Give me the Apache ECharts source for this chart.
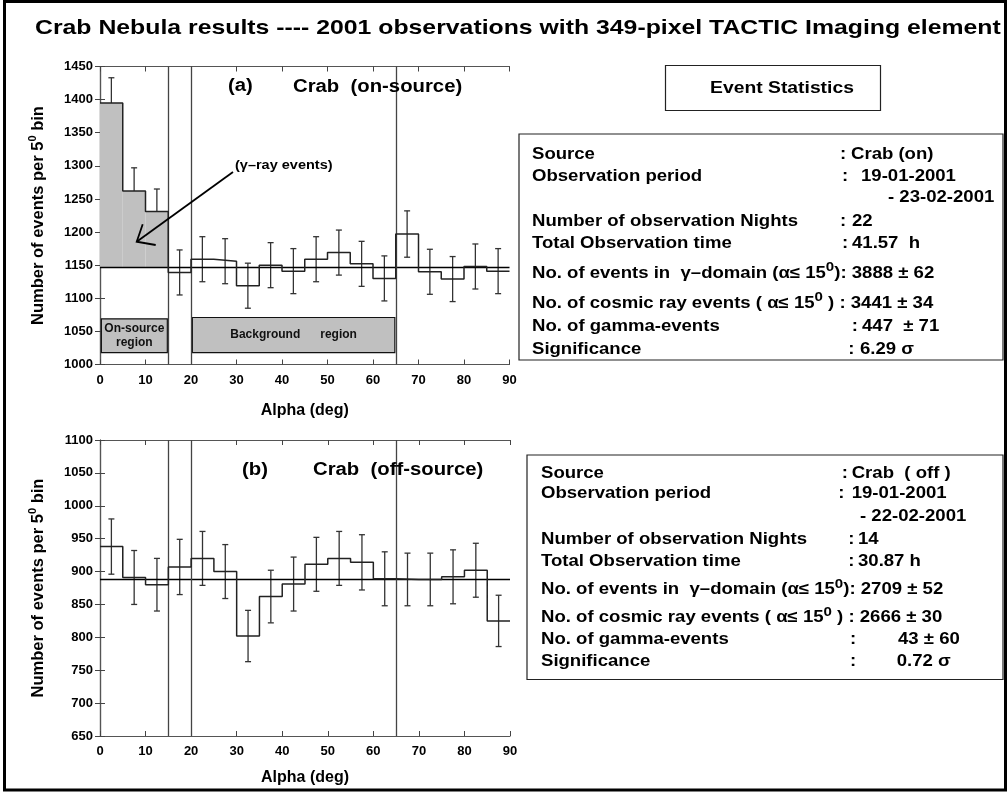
<!DOCTYPE html>
<html>
<head>
<meta charset="utf-8">
<script src="https://cdn.jsdelivr.net/npm/echarts@6/dist/echarts.min.js"></script>
<style>
  html, body { margin: 0; padding: 0; background: #fff; }
  #chart { width: 1008px; height: 792px; }
</style>
</head>
<body>
<div id="chart"></div>
<script>
// ---- data -------------------------------------------------------------
// Alpha bins (deg), 5 deg wide
const binStarts = [0, 5, 10, 15, 20, 25, 30, 35, 40, 45, 50, 55, 60, 65, 70, 75, 80, 85];
const binWidth = 5;
const xTicks = [0, 10, 20, 30, 40, 50, 60, 70, 80, 90];

// (a) on-source counts per bin and their errors
const onCounts = [1395, 1262, 1231, 1139, 1159, 1156, 1119, 1150, 1141, 1159, 1169, 1152, 1130, 1197, 1140, 1129, 1148, 1141];
const onErrors = [38, 35, 34, 34, 34, 34, 34, 34, 34, 34, 34, 34, 34, 35, 34, 34, 34, 34];
const onBackgroundLevel = 1147;   // 3441 / 3 bins
const onYTicks = [1000, 1050, 1100, 1150, 1200, 1250, 1300, 1350, 1400, 1450];

// (b) off-source counts per bin and their errors
const offCounts = [938, 891, 880, 907, 920, 900, 802, 862, 881, 911, 920, 914, 889, 888, 888, 892, 902, 825];
const offErrors = [42, 41, 40, 42, 41, 41, 39, 40, 41, 41, 41, 42, 41, 40, 40, 41, 41, 39];
const offBackgroundLevel = 889;   // 2666 / 3 bins
const offYTicks = [650, 700, 750, 800, 850, 900, 950, 1000, 1050, 1100];

// alpha cuts: gamma domain ends at 15, background region 20..65
const alphaCuts = [15, 20, 65];
const gammaDomainEnd = 15;
const regions = [
  { name: 'On-source\nregion', from: 0, to: 15 },
  { name: 'Background      region', from: 20, to: 65 }
];

// event statistics
const statsOn = [
  ['Source', 'Crab (on)'],
  ['Observation period', '19-01-2001'],
  ['', '- 23-02-2001'],
  ['Number of observation Nights', '22'],
  ['Total Observation time', '41.57  h'],
  ['No. of events in  γ–domain (α≤ 15{s|0}): 3888 ± 62', ''],
  ['No. of cosmic ray events ( α≤ 15{s|0} ) : 3441 ± 34', ''],
  ['No. of gamma-events', '447  ± 71'],
  ['Significance', '6.29 σ']
];
const statsOff = [
  ['Source', 'Crab  ( off )'],
  ['Observation period', '19-01-2001'],
  ['', '- 22-02-2001'],
  ['Number of observation Nights', '14'],
  ['Total Observation time', '30.87 h'],
  ['No. of events in  γ–domain (α≤ 15{s|0}): 2709 ± 52', ''],
  ['No. of cosmic ray events ( α≤ 15{s|0} ) : 2666 ± 30', ''],
  ['No. of gamma-events', '43 ± 60'],
  ['Significance', '0.72 σ']
];

// ---- layout -----------------------------------------------------------
const FONT = '"Liberation Sans", Arial, sans-serif';
const STRETCH = 1.16;
const plots = [
  { left: 100, top: 66.5, width: 409.5, height: 298 },
  { left: 100, top: 440, width: 410, height: 296 }
];
const xNameGaps = [38, 34];
// stats box text rows: centre y, colon x, value x
const onRowsY = [155, 176.7, 198, 221.7, 243.3, 273.3, 303.3, 326.7, 350];
const onColonX = [840, 842, null, 840, 842, null, null, 851.7, 848.3];
const onValueX = [851, 861, 888, 852, 852, null, null, 862, 860];
const offRowsY = [473.3, 494, 517, 540, 561.7, 590, 618, 640, 661.7];
const offColonX = [841.7, 838.3, null, 848.3, 848.3, null, null, 850, 850];
const offValueX = [851.7, 851.7, 860, 858, 858, null, null, 898, 896.7];

const chart = echarts.init(document.getElementById('chart'), null, { renderer: 'canvas' });

function stepData(counts) {
  const d = binStarts.map((s, i) => [s, counts[i]]);
  d.push([binStarts[binStarts.length - 1] + binWidth, counts[counts.length - 1]]);
  return d;
}
function errData(counts, errs) {
  return binStarts.map((s, i) => [s + binWidth / 2, counts[i], errs[i]]);
}
function errRender(params, api) {
  const x = api.value(0), v = api.value(1), e = api.value(2);
  const t = api.coord([x, v + e]);
  const b = api.coord([x, v - e]);
  const w = 3;
  const st = { stroke: '#333', lineWidth: 1.3 };
  return {
    type: 'group',
    children: [
      { type: 'line', shape: { x1: t[0], y1: t[1], x2: b[0], y2: b[1] }, style: st },
      { type: 'line', shape: { x1: t[0] - w, y1: t[1], x2: t[0] + w, y2: t[1] }, style: st },
      { type: 'line', shape: { x1: b[0] - w, y1: b[1], x2: b[0] + w, y2: b[1] }, style: st }
    ]
  };
}

const axisLabelStyle = { color: '#000', fontFamily: FONT, fontWeight: 'bold', fontSize: 13, formatter: v => String(v) };
const axisLineStyle = { lineStyle: { color: '#555', width: 1.2 } };
const tickStyle = { inside: true, length: 5, lineStyle: { color: '#444' } };

function xAxes(gi) {
  return [
    {
      type: 'value', gridIndex: gi, min: xTicks[0], max: xTicks[xTicks.length - 1], interval: xTicks[1] - xTicks[0], position: 'bottom',
      axisLine: axisLineStyle, axisTick: tickStyle, splitLine: { show: false },
      axisLabel: Object.assign({ margin: 9 }, axisLabelStyle),
      name: 'Alpha (deg)', nameLocation: 'middle', nameGap: xNameGaps[gi],
      nameTextStyle: { color: '#000', fontFamily: FONT, fontWeight: 'bold', fontSize: 16 }
    },
    {
      type: 'value', gridIndex: gi, min: xTicks[0], max: xTicks[xTicks.length - 1], interval: xTicks[1] - xTicks[0], position: 'top',
      axisLine: axisLineStyle, axisTick: tickStyle, splitLine: { show: false },
      axisLabel: { show: false }
    }
  ];
}
function yAxes(gi, ticks) {
  const min = ticks[0], max = ticks[ticks.length - 1], step = ticks[1] - ticks[0];
  return [
    {
      type: 'value', gridIndex: gi, min, max, interval: step, position: 'left',
      axisLine: axisLineStyle, axisTick: tickStyle, splitLine: { show: false },
      axisLabel: Object.assign({ margin: 7 }, axisLabelStyle),
      name: '{t|Number of events per 5}{s|0}{t| bin}', nameLocation: 'middle', nameGap: 51, nameRotate: 90,
      nameTextStyle: {
        rich: {
          t: { color: '#000', fontFamily: FONT, fontWeight: 'bold', fontSize: 16.5, lineHeight: 22 },
          s: { color: '#000', fontFamily: FONT, fontWeight: 'bold', fontSize: 11, verticalAlign: 'top' }
        }
      }
    },
    {
      type: 'value', gridIndex: gi, min, max, interval: step, position: 'right',
      axisLine: axisLineStyle, axisTick: tickStyle, splitLine: { show: false },
      axisLabel: { show: false }
    }
  ];
}

function panelSeries(gi, counts, errs, level, withRegions) {
  const xi = gi * 2, yi = gi * 2;
  const series = [];
  series.push({
    type: 'custom', xAxisIndex: xi, yAxisIndex: yi, z: 3, silent: true,
    renderItem: errRender, data: errData(counts, errs)
  });
  if (withRegions) {
    // shaded excess over the background level inside the gamma domain
    const fill = binStarts.map((s, i) => [s, s + binWidth, counts[i]]).filter(d => d[1] <= gammaDomainEnd);
    series.push({
      type: 'custom', xAxisIndex: xi, yAxisIndex: yi, z: 4, silent: true,
      data: fill,
      renderItem: (params, api) => {
        const p0 = api.coord([api.value(0), api.value(2)]);
        const p1 = api.coord([api.value(1), level]);
        return { type: 'rect', shape: { x: p0[0], y: p0[1], width: p1[0] - p0[0], height: p1[1] - p0[1] },
                 style: { fill: '#c0c0c0' } };
      }
    });
  }
  const markAreaData = withRegions ? regions.map(r => [
    {
      xAxis: r.from + 0.3, yAxis: 1018, name: r.name,
      itemStyle: { color: '#c0c0c0', borderColor: '#111', borderWidth: 1.2 },
      label: { show: true, position: 'inside', color: '#111', fontFamily: FONT, fontWeight: 'bold', fontSize: 12, lineHeight: 14 }
    },
    { xAxis: r.to - 0.2, yAxis: r.from === 0 ? 1069 : 1071 }
  ]) : [];
  series.push({
    type: 'line', xAxisIndex: xi, yAxisIndex: yi, z: 5, silent: true,
    step: 'end', showSymbol: false, data: stepData(counts),
    lineStyle: { color: '#222', width: 1.5 },
    markLine: {
      silent: true, symbol: ['none', 'none'], label: { show: false },
      data: [
        { yAxis: level, lineStyle: { color: '#000', width: 1.3, type: 'solid' } }
      ].concat(alphaCuts.map(c => ({ xAxis: c, lineStyle: { color: '#444', width: 1.3, type: 'solid' } })))
    },
    markArea: { silent: true, data: markAreaData }
  });
  return series;
}

// free text helpers
function txt(x, y, text, size, opts) {
  opts = opts || {};
  const hasSup = text.indexOf('{s|') >= 0;
  return {
    type: 'text', x, y, scaleX: opts.scaleX || STRETCH, z: 100, silent: true,
    style: {
      text, x: 0, y: 0,
      font: 'bold ' + size + 'px ' + FONT,
      fill: '#000',
      textAlign: opts.align || 'left',
      textVerticalAlign: 'middle',
      lineHeight: hasSup ? size + 9 : undefined,
      rich: {
        s: { fontFamily: FONT, fontWeight: 'bold', fontSize: size - 3, fill: '#000', verticalAlign: 'top' }
      }
    }
  };
}
function statsBlock(rows, xLabel, ys, colonX, valueX) {
  const out = [];
  rows.forEach((r, i) => {
    if (r[0]) out.push(txt(xLabel, ys[i], r[0], 16));
    if (colonX[i] != null) out.push(txt(colonX[i], ys[i], ':', 16));
    if (r[1]) out.push(txt(valueX[i], ys[i], r[1], 16));
  });
  return out;
}

const graphics = [
  // outer frame
  { type: 'rect', z: 100, silent: true, shape: { x: 4.5, y: 1.5, width: 1001, height: 788.5 },
    style: { fill: 'none', stroke: '#000', lineWidth: 3 } },
  txt(35, 28, 'Crab Nebula results ---- 2001 observations with 349-pixel TACTIC Imaging element', 20.5, { scaleX: 1.21 }),
  // panel labels
  txt(228, 86.5, '(a)', 17.5),
  txt(293, 87, 'Crab  (on-source)', 17.5),
  txt(242, 470, '(b)', 17.5),
  txt(313, 470, 'Crab  (off-source)', 17.5),
  // gamma-ray annotation with arrow
  txt(235, 166, '(γ–ray events)', 12.5),
  { type: 'line', z: 100, silent: true, shape: { x1: 233, y1: 172, x2: 137, y2: 241.5 },
    style: { stroke: '#000', lineWidth: 1.8 } },
  { type: 'polyline', z: 100, silent: true, shape: { points: [[142.7, 224.3], [136.7, 241.7], [155.7, 245]] },
    style: { stroke: '#000', fill: 'none', lineWidth: 1.8 } },
  // event statistics header
  { type: 'rect', z: 90, silent: true, shape: { x: 665.5, y: 65.5, width: 215, height: 45 },
    style: { fill: '#fff', stroke: '#222', lineWidth: 1.2 } },
  txt(782, 88, 'Event Statistics', 16.5, { align: 'center', scaleX: 1.17 }),
  // stats boxes
  { type: 'rect', z: 90, silent: true, shape: { x: 519, y: 134, width: 484, height: 226 },
    style: { fill: '#fff', stroke: '#222', lineWidth: 1.2 } },
  { type: 'rect', z: 90, silent: true, shape: { x: 527, y: 455, width: 476, height: 224.5 },
    style: { fill: '#fff', stroke: '#222', lineWidth: 1.2 } }
].concat(
  statsBlock(statsOn, 532, onRowsY, onColonX, onValueX),
  statsBlock(statsOff, 541, offRowsY, offColonX, offValueX)
);

const option = {
  backgroundColor: '#fff',
  animation: false,
  textStyle: { fontFamily: FONT },
  grid: plots.map(p => Object.assign({ containLabel: false }, p)),
  xAxis: xAxes(0).concat(xAxes(1)),
  yAxis: yAxes(0, onYTicks).concat(yAxes(1, offYTicks)),
  series: panelSeries(0, onCounts, onErrors, onBackgroundLevel, true)
    .concat(panelSeries(1, offCounts, offErrors, offBackgroundLevel, false)),
  graphic: graphics
};

// the second grid uses axis indices 2/3 for x and y
option.series.forEach(s => {
  if (s.xAxisIndex === 1) { s.xAxisIndex = 2; s.yAxisIndex = 2; }
});
chart.setOption(option);
</script>
</body>
</html>
